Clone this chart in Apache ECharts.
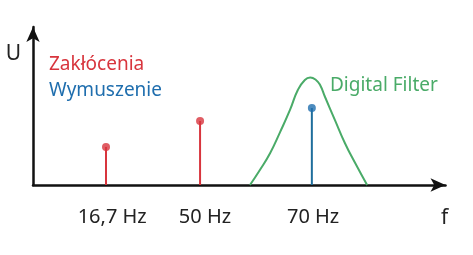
<!DOCTYPE html>
<html>
<head>
<meta charset="utf-8">
<script src="https://cdn.jsdelivr.net/npm/echarts@6/dist/echarts.min.js"></script>
<style>
    html, body { margin: 0; padding: 0; background: #fff; }
    #chart { width: 473px; height: 255px; }
</style>
</head>
<body>
<div id="chart"></div>
<script>
// x is a 0-100 position along the (non-linear) frequency axis, y is relative amplitude 0-100
const tickLabels = ['16,7 Hz', '50 Hz', '70 Hz']
const tickPos = [19.2, 41.7, 67.9]

const zakloceniaX = [17.7, 40.5]
const zakloceniaY = [24.1, 40.5]

const wymuszenieX = [67.6]
const wymuszenieY = [48.7]

const filterX = [52.6, 55.0, 57.5, 59.9, 62.3, 64.2, 65.9, 67.2, 68.6, 69.6, 70.8, 73.2, 75.6, 78.1, 81.0]
const filterY = [0, 9.5, 20.3, 33.5, 47.5, 60.1, 66.5, 68.0, 66.5, 63.3, 55.7, 41.1, 26.6, 13.9, 0]

const RED = '#d8353d'
const BLUE = '#1f6eae'
const GREEN = '#4aab68'
const FONT = '"Noto Sans", sans-serif'

const pairs = (xs, ys) => xs.map((x, i) => [x, ys[i]])

const chart = echarts.init(document.getElementById('chart'))
chart.setOption({
    animation: false,
    grid: {
        left: 33,
        right: 27.5,
        top: 27,
        bottom: 70
    },
    legend: [
        {
            orient: 'vertical',
            left: 44,
            top: 55,
            padding: 0,
            icon: 'none',
            itemWidth: 0,
            itemHeight: 19,
            itemGap: 7,
            selectedMode: false,
            textStyle: { fontFamily: FONT, fontSize: 19 },
            data: [
                { name: 'Zakłócenia', textStyle: { color: RED } },
                { name: 'Wymuszenie', textStyle: { color: BLUE } }
            ]
        },
        {
            left: 325,
            top: 76,
            padding: 0,
            icon: 'none',
            itemWidth: 0,
            itemHeight: 19,
            selectedMode: false,
            textStyle: { fontFamily: FONT, fontSize: 19 },
            data: [{ name: 'Digital Filter', textStyle: { color: GREEN } }]
        }
    ],
    xAxis: {
        type: 'value',
        min: 0,
        max: 100,
        name: 'f',
        nameLocation: 'end',
        nameGap: -1,
        nameTextStyle: {
            fontFamily: FONT,
            fontSize: 21,
            color: '#222',
            align: 'center',
            verticalAlign: 'top',
            padding: [23, 0, 0, 0]
        },
        axisLine: {
            show: true,
            symbol: ['none', 'arrow'],
            symbolSize: [10, 15],
            lineStyle: { color: '#111', width: 2.5 }
        },
        axisTick: { show: false },
        splitLine: { show: false },
        axisLabel: {
            customValues: tickPos,
            margin: 22,
            fontFamily: FONT,
            fontSize: 20,
            color: '#222',
            formatter: function (v) {
                const i = tickPos.indexOf(v)
                return i >= 0 ? tickLabels[i] : ''
            }
        }
    },
    yAxis: {
        type: 'value',
        min: 0,
        max: 100,
        name: 'U',
        nameLocation: 'end',
        nameGap: -27,
        nameTextStyle: {
            fontFamily: FONT,
            fontSize: 21,
            color: '#222',
            align: 'right',
            verticalAlign: 'middle',
            padding: [0, 12, 0, 0]
        },
        axisLine: {
            show: true,
            symbol: ['none', 'arrow'],
            symbolSize: [10, 15],
            lineStyle: { color: '#111', width: 2.5 }
        },
        axisTick: { show: false },
        splitLine: { show: false },
        axisLabel: { show: false }
    },
    series: [
        {
            name: 'Digital Filter',
            type: 'line',
            smooth: 0.5,
            showSymbol: false,
            lineStyle: { color: GREEN, width: 2 },
            itemStyle: { color: GREEN },
            data: pairs(filterX, filterY),
            z: 1
        },
        {
            name: 'Zakłócenia',
            type: 'bar',
            barWidth: 2,
            barGap: '-100%',
            itemStyle: { color: RED },
            data: pairs(zakloceniaX, zakloceniaY),
            z: 2
        },
        {
            name: 'Wymuszenie',
            type: 'bar',
            barWidth: 2,
            barGap: '-100%',
            itemStyle: { color: '#1f6e9c' },
            data: pairs(wymuszenieX, wymuszenieY),
            z: 2
        },
        {
            name: 'Zakłócenia',
            type: 'scatter',
            symbolSize: 8,
            itemStyle: { color: RED },
            data: pairs(zakloceniaX, zakloceniaY),
            z: 3
        },
        {
            name: 'Wymuszenie',
            type: 'scatter',
            symbolSize: 8,
            itemStyle: { color: BLUE },
            data: pairs(wymuszenieX, wymuszenieY),
            z: 3
        }
    ]
})
</script>
</body>
</html>
